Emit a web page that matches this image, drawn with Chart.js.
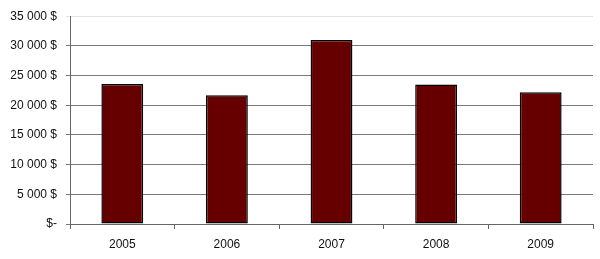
<!DOCTYPE html>
<html>
<head>
<meta charset="utf-8">
<script src="https://cdn.jsdelivr.net/npm/chart.js@4/dist/chart.umd.min.js"></script>
<style>
  html, body { margin: 0; padding: 0; background: #fff; }
  #wrap { width: 600px; height: 259px; }
</style>
</head>
<body>
<div id="wrap"><canvas id="chart" width="600" height="259"></canvas></div>
<script>
const years = ["2005", "2006", "2007", "2008", "2009"];
const amounts = [23600, 21700, 31000, 23500, 22200];
const yTicks = [0, 5000, 10000, 15000, 20000, 25000, 30000, 35000];

function fmtDollar(v) {
  if (v === 0) return "$-";
  return v.toLocaleString("en-US").replace(/,/g, " ") + " $";
}

const font = { family: "'Liberation Sans', Arial, sans-serif", size: 12 };

new Chart(document.getElementById("chart"), {
  type: "bar",
  data: {
    labels: years,
    datasets: [{
      data: amounts,
      backgroundColor: "#660000",
      borderColor: "#000",
      borderWidth: 1.5,
      borderSkipped: false,
      categoryPercentage: 1,
      barPercentage: 0.4,
    }],
  },
  options: {
    responsive: false,
    animation: false,
    layout: { padding: { top: 9, right: 7, left: 0, bottom: 0 } },
    plugins: { legend: { display: false }, tooltip: { enabled: false } },
    scales: {
      x: {
        afterFit: (s) => { s.height = 35; },
        grid: {
          offset: true,
          drawOnChartArea: false,
          drawTicks: true,
          tickLength: 5,
          color: "#666",
        },
        border: { color: "#666", width: 1 },
        ticks: { color: "#111", font: font, padding: 8 },
      },
      y: {
        min: 0,
        max: 35000,
        afterFit: (s) => { s.width = 70; },
        afterBuildTicks: (s) => { s.ticks = yTicks.map((v) => ({ value: v })); },
        grid: {
          tickLength: 4,
          color: (ctx) => (ctx.tick && ctx.tick.value === 35000 ? "#e2e2e2" : "#7a7a7a"),
        },
        border: { color: "#666", width: 1 },
        ticks: {
          color: "#111",
          font: font,
          padding: 9,
          callback: (v) => fmtDollar(v),
        },
      },
    },
  },
});
</script>
</body>
</html>
